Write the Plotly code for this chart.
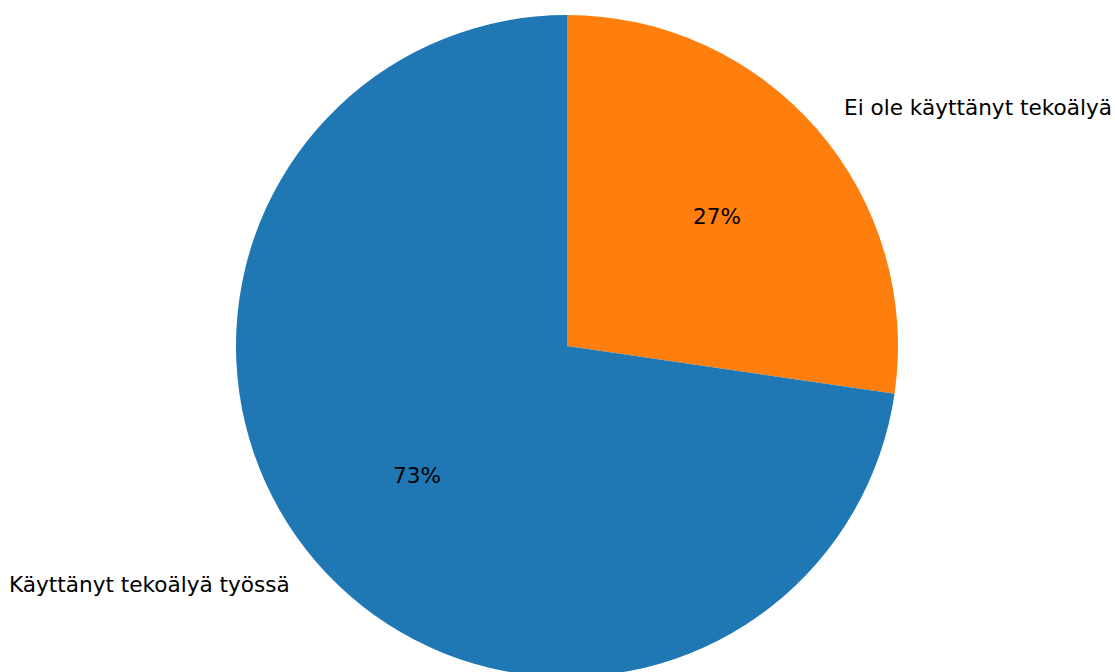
import math
import plotly.graph_objects as go

labels = ["Ei ole käyttänyt tekoälyä", "Käyttänyt tekoälyä työssä"]
values = [27.3, 72.7]
colors = ["#ff7f0e", "#1f77b4"]

W, H = 1115, 684
cx, cy, r = 567, 346, 331  # pie centre / radius in pixels
FS = 21.6

fig = go.Figure(go.Pie(
    labels=labels, values=values, sort=False, direction="clockwise", rotation=0,
    marker=dict(colors=colors, line=dict(width=0)),
    textinfo="none", hoverinfo="label+percent", showlegend=False,
    domain=dict(x=[(cx - r) / W, (cx + r) / W], y=[(H - cy - r) / H, (H - cy + r) / H]),
))

total = sum(values)
annotations = []
start = 90.0
for lab, v in zip(labels, values):
    span = 360.0 * v / total
    mid = math.radians(start - span / 2)
    start -= span
    c, s = math.cos(mid), math.sin(mid)
    # outer label at 1.1 r
    lx, ly = cx + 1.1 * r * c, cy - 1.1 * r * s
    annotations.append(dict(
        x=lx / W, y=(H - ly) / H, xref="paper", yref="paper", text=lab, showarrow=False,
        xanchor="left" if c > 0 else "right", yanchor="middle",
        font=dict(family="DejaVu Sans", size=FS, color="black")))
    # percentage at 0.6 r
    px, py = cx + 0.6 * r * c, cy - 0.6 * r * s
    annotations.append(dict(
        x=px / W, y=(H - py) / H, xref="paper", yref="paper", text=f"{round(100 * v / total)}%",
        showarrow=False, xanchor="center", yanchor="middle",
        font=dict(family="DejaVu Sans", size=FS, color="black")))

fig.update_layout(
    width=W, height=H, margin=dict(l=0, r=0, t=0, b=0),
    paper_bgcolor="white", plot_bgcolor="white", annotations=annotations,
)

fig.write_html("out.html", config={"displayModeBar": False},
               post_script="document.body.style.margin='0';document.body.style.overflow='hidden';")
